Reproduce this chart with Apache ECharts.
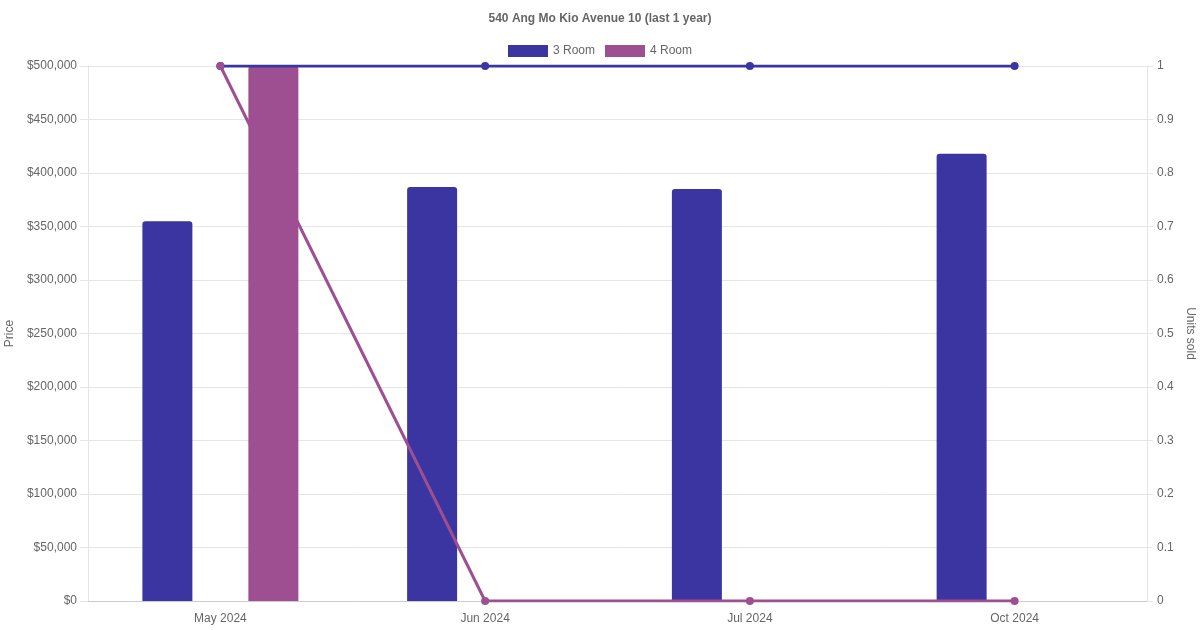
<!DOCTYPE html>
<html>
<head>
<meta charset="utf-8">
<script src="https://cdn.jsdelivr.net/npm/echarts@6/dist/echarts.min.js"></script>
<style>html,body{margin:0;padding:0;background:#fff}#c{width:1200px;height:630px}</style>
</head>
<body>
<div id="c"></div>
<script>
const categories = ['May 2024', 'Jun 2024', 'Jul 2024', 'Oct 2024'];
const price3Room = [355000, 387000, 385000, 418000];
const price4Room = [500000, null, null, null];
const units3Room = [1, 1, 1, 1];
const units4Room = [1, 0, 0, 0];
const seriesNames = ['3 Room', '4 Room'];
const colors = ['#3a35a0', '#9e4f92'];

const font = 'Liberation Sans, Arial, Helvetica, sans-serif';
const chart = echarts.init(document.getElementById('c'));
chart.setOption({
  animation: false,
  textStyle: { fontFamily: font },
  title: {
    text: '540 Ang Mo Kio Avenue 10 (last 1 year)',
    left: 'center', top: 8,
    textStyle: { fontSize: 12, fontWeight: 'bold', color: '#666', fontFamily: font }
  },
  legend: {
    data: seriesNames.map(n => ({ name: n, icon: 'rect' })),
    top: 40, left: 'center',
    itemWidth: 40, itemHeight: 12, itemGap: 10,
    textStyle: { fontSize: 12, color: '#666', fontFamily: font }
  },
  grid: { left: 88, right: 53, top: 66, bottom: 29, containLabel: false, outerBoundsMode: 'none' },
  xAxis: {
    type: 'category', data: categories, boundaryGap: true,
    axisLine: { lineStyle: { color: '#ccc' } },
    axisTick: { show: false },
    axisLabel: { color: '#666', fontSize: 12, margin: 12, fontFamily: font },
    splitLine: { show: false }
  },
  yAxis: [
    {
      type: 'value', min: 0, max: 500000, interval: 50000,
      name: 'Price', nameLocation: 'middle', nameRotate: 90, nameGap: 66,
      nameTextStyle: { color: '#666', fontSize: 12, fontFamily: font },
      axisLine: { show: true, lineStyle: { color: '#e5e5e5' } },
      axisTick: { show: true, length: 8, lineStyle: { color: '#e5e5e5' } },
      axisLabel: { color: '#666', fontSize: 12, margin: 11, fontFamily: font,
        formatter: v => '$' + v.toLocaleString('en-US') },
      splitLine: { lineStyle: { color: '#e5e5e5' } }
    },
    {
      type: 'value', min: 0, max: 1, interval: 0.1, position: 'right',
      name: 'Units sold', nameLocation: 'middle', nameRotate: -90, nameGap: 34,
      nameTextStyle: { color: '#666', fontSize: 12, fontFamily: font },
      axisLine: { show: true, lineStyle: { color: '#e5e5e5' } },
      axisTick: { show: true, length: 6, lineStyle: { color: '#e5e5e5' } },
      axisLabel: { color: '#666', fontSize: 12, margin: 10, fontFamily: font,
        formatter: v => String(Math.round(v * 10) / 10) },
      splitLine: { show: false }
    }
  ],
  series: [
    { name: seriesNames[0], type: 'bar', yAxisIndex: 0, data: price3Room,
      barWidth: 50, barGap: '112%',
      itemStyle: { color: colors[0], borderRadius: [3, 3, 0, 0] } },
    { name: seriesNames[1], type: 'bar', yAxisIndex: 0, data: price4Room,
      barWidth: 50, barGap: '112%',
      itemStyle: { color: colors[1], borderRadius: [3, 3, 0, 0] } },
    { name: seriesNames[0], type: 'line', yAxisIndex: 1, data: units3Room,
      symbol: 'circle', symbolSize: 8, z: 3,
      lineStyle: { width: 3, color: colors[0] }, itemStyle: { color: colors[0] } },
    { name: seriesNames[1], type: 'line', yAxisIndex: 1, data: units4Room,
      symbol: 'circle', symbolSize: 8, z: 3,
      lineStyle: { width: 3, color: colors[1] }, itemStyle: { color: colors[1] } }
  ]
});
</script>
</body>
</html>
